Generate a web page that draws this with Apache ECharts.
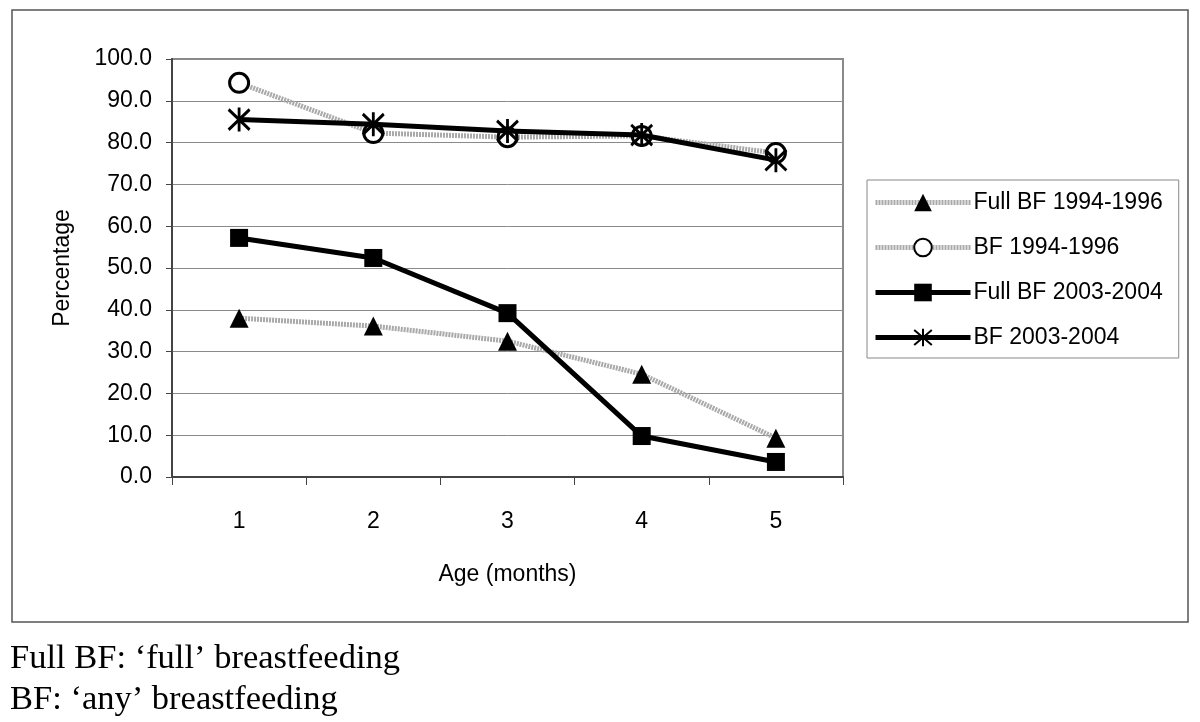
<!DOCTYPE html>
<html><head><meta charset="utf-8">
<script src="https://cdn.jsdelivr.net/npm/echarts@6/dist/echarts.min.js"></script>
<style>html,body{margin:0;padding:0;background:#fff}#c{width:1200px;height:722px}</style>
</head><body><div id="c"></div>
<script>
const categories = ['1','2','3','4','5'];
const fullBF9496 = [38.0, 36.1, 32.5, 24.6, 9.3];
const bf9496 = [94.3, 82.3, 81.3, 81.6, 77.5];
const fullBF0304 = [57.2, 52.4, 39.2, 9.8, 3.6];
const bf0304 = [85.5, 84.4, 82.8, 81.8, 75.8];
const seriesNames = ['Full BF 1994-1996','BF 1994-1996','Full BF 2003-2004','BF 2003-2004'];

const chart = echarts.init(document.getElementById('c'), null, {renderer:'canvas'});
const font = 'Liberation Sans, Arial, sans-serif';
const fs = 23;
const grayLine = {color:'#a9a9a9', width:5, type:[2,1]};
const blackLine = {color:'#000', width:5};
const star = 'path://M0,-10L0,10M-8.5,-8.5L8.5,8.5M-8.5,8.5L8.5,-8.5';
chart.setOption({
  animation:false,
  backgroundColor:'#fff',
  graphic:[
    {type:'rect', shape:{x:12,y:10,width:1176,height:612}, style:{fill:'none', stroke:'#555', lineWidth:1.5}, z:-1},
    {type:'text', left:10, top:641, style:{text:'Full BF: \u2018full\u2019 breastfeeding', font:'34.5px "Liberation Serif", "Times New Roman", serif', fill:'#000'}},
    {type:'text', left:10, top:682, style:{text:'BF: \u2018any\u2019 breastfeeding', font:'34.5px "Liberation Serif", "Times New Roman", serif', fill:'#000'}}
  ],
  grid:{left:172, right:357, top:59, bottom:245, show:true, borderColor:'#8a8a8a', borderWidth:2},
  legend:{
    orient:'vertical', left:867, top:180,
    padding:[11,16,9,6], itemGap:22, itemWidth:95, itemHeight:22,
    borderColor:'#888', borderWidth:1,
    textStyle:{fontFamily:font, fontSize:fs, color:'#000', padding:[0,0,0,-2]},
    data:[
      {name:seriesNames[0], lineStyle:{width:5}},
      {name:seriesNames[1], lineStyle:{width:5}},
      {name:seriesNames[2], lineStyle:{width:5}},
      {name:seriesNames[3], lineStyle:{width:5}}
    ]
  },
  xAxis:{
    type:'category', data:categories, boundaryGap:true,
    name:'Age (months)', nameLocation:'middle', nameGap:86,
    nameTextStyle:{fontFamily:font, fontSize:fs, color:'#000'},
    axisLine:{lineStyle:{color:'#444', width:2}},
    axisTick:{show:true, length:8, inside:false, lineStyle:{color:'#444', width:1}},
    axisLabel:{fontFamily:font, fontSize:fs, color:'#000', margin:33}
  },
  yAxis:{
    type:'value', min:0, max:100, interval:10,
    name:'Percentage', nameLocation:'middle', nameGap:98, nameRotate:90,
    nameTextStyle:{fontFamily:font, fontSize:fs, color:'#000'},
    axisLine:{show:true, lineStyle:{color:'#444', width:2}},
    axisTick:{show:true, length:6, lineStyle:{color:'#444'}},
    axisLabel:{fontFamily:font, fontSize:fs, color:'#000', margin:20, formatter:v=>v.toFixed(1)},
    splitLine:{show:true, lineStyle:{color:'#8a8a8a', width:1}}
  },
  series:[
    {name:seriesNames[0], type:'line', data:fullBF9496, symbol:'triangle', symbolSize:19,
     lineStyle:grayLine, itemStyle:{color:'#000'}, z:2},
    {name:seriesNames[1], type:'line', data:bf9496, symbol:'circle', symbolSize:19,
     lineStyle:grayLine, itemStyle:{color:'#fff', borderColor:'#000', borderWidth:3}, z:2},
    {name:seriesNames[2], type:'line', data:fullBF0304, symbol:'rect', symbolSize:18,
     lineStyle:blackLine, itemStyle:{color:'#000'}, z:3},
    {name:seriesNames[3], type:'line', data:bf0304, symbol:star, symbolSize:[21,24],
     lineStyle:blackLine, itemStyle:{color:'rgba(0,0,0,0)', borderColor:'#000', borderWidth:3}, z:4}
  ]
});
</script></body></html>
